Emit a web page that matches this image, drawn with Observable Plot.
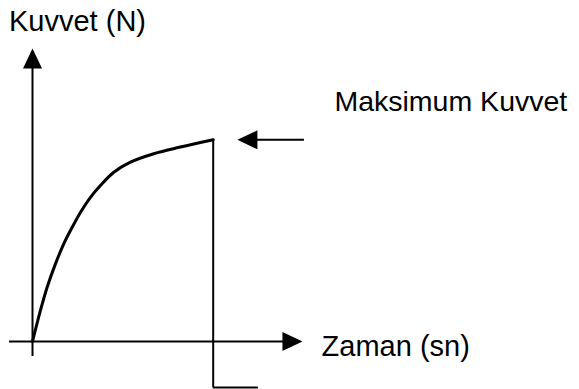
<!DOCTYPE html>
<html>
<head>
<meta charset="utf-8">
<script src="https://cdn.jsdelivr.net/npm/d3@7"></script>
<script src="https://cdn.jsdelivr.net/npm/@observablehq/plot@0.6"></script>
<style>
  html, body { margin: 0; padding: 0; background: #fff; }
  #chart svg { display: block; }
</style>
</head>
<body>
<div id="chart"></div>
<script>
// Force–time curve (arbitrary units: t in s, F in N)
const curveTime  = [0, 0.44, 0.81, 1.27, 1.73, 2.20, 2.66, 3.21, 3.76, 4.50, 5.42, 6.71, 8.19, 10];
const curveForce = [0, 1.54, 2.69, 3.85, 4.84, 5.67, 6.41, 7.15, 7.73, 8.39, 8.89, 9.31, 9.64, 10];

// Axis extents (data units)
const timeAxis  = {from: -1.27, to: 14.94};   // horizontal axis, arrow at "to"
const forceAxis = {from: -0.74, to: 14.53};   // vertical axis, arrow at "to"

// Drop at maximum force and trailing segment
const dropTime = 10, dropForceTop = 10, dropForceBottom = -2.28, tailTime = 12.5;

// Pointer arrow to the maximum
const pointer = {force: 10, from: 15.05, to: 11.34};

// Labels
const yLabel   = {text: "Kuvvet (N)",      t: -1.30, f: 15.87};
const maxLabel = {text: "Maksimum Kuvvet", t: 16.71, f: 11.90};
const xLabel   = {text: "Zaman (sn)",      t: 16.0,  f: -0.28};

const curve = curveTime.map((t, i) => ({t, f: curveForce[i]}));

// filled triangle arrowheads, anchored at the tip
const headLen = 20, headHalf = 9.5;
const headUp = {draw(c) { c.moveTo(0, 0); c.lineTo(-headHalf, headLen); c.lineTo(headHalf, headLen); c.closePath(); }};
const headRight = {draw(c) { c.moveTo(0, 0); c.lineTo(-headLen, -headHalf); c.lineTo(-headLen, headHalf); c.closePath(); }};
const headLeft = {draw(c) { c.moveTo(0, 0); c.lineTo(headLen, -headHalf); c.lineTo(headLen, headHalf); c.closePath(); }};

const textOpts = {x: "t", y: "f", text: "text", textAnchor: "start", lineAnchor: "middle", fill: "#000"};

const plot = Plot.plot({
  width: 579,
  height: 389,
  margin: 0,
  x: {domain: [0, 10], range: [32, 212.7], axis: null},
  y: {domain: [0, 10], range: [341, 139.3], axis: null},
  style: {fontFamily: "'Liberation Sans', Arial, Helvetica, sans-serif", background: "#fff"},
  marks: [
    // axes
    Plot.ruleY([0], {x1: timeAxis.from, x2: timeAxis.to - 1, stroke: "#000", strokeWidth: 2}),
    Plot.ruleX([0], {y1: forceAxis.from, y2: forceAxis.to - 1, stroke: "#000", strokeWidth: 2}),
    Plot.dot([{t: timeAxis.to, f: 0}], {x: "t", y: "f", symbol: headRight, fill: "#000", stroke: null, r: 5}),
    Plot.dot([{t: 0, f: forceAxis.to}], {x: "t", y: "f", symbol: headUp, fill: "#000", stroke: null, r: 5}),
    // curve
    Plot.line(curve, {x: "t", y: "f", curve: "catmull-rom", stroke: "#000", strokeWidth: 3}),
    // drop line and tail
    Plot.ruleX([dropTime], {y1: dropForceBottom, y2: dropForceTop, stroke: "#000", strokeWidth: 2}),
    Plot.ruleY([dropForceBottom], {x1: dropTime, x2: tailTime, stroke: "#000", strokeWidth: 2}),
    // pointer arrow
    Plot.ruleY([pointer.force], {x1: pointer.from, x2: pointer.to + 1, stroke: "#000", strokeWidth: 2}),
    Plot.dot([{t: pointer.to, f: pointer.force}], {x: "t", y: "f", symbol: headLeft, fill: "#000", stroke: null, r: 5}),
    // labels
    Plot.text([yLabel], {...textOpts, fontSize: 29, letterSpacing: 0.4}),
    Plot.text([maxLabel], {...textOpts, fontSize: 28.5}),
    Plot.text([xLabel], {...textOpts, fontSize: 29, letterSpacing: 0.9})
  ]
});
document.getElementById("chart").appendChild(plot);
</script>
</body>
</html>
